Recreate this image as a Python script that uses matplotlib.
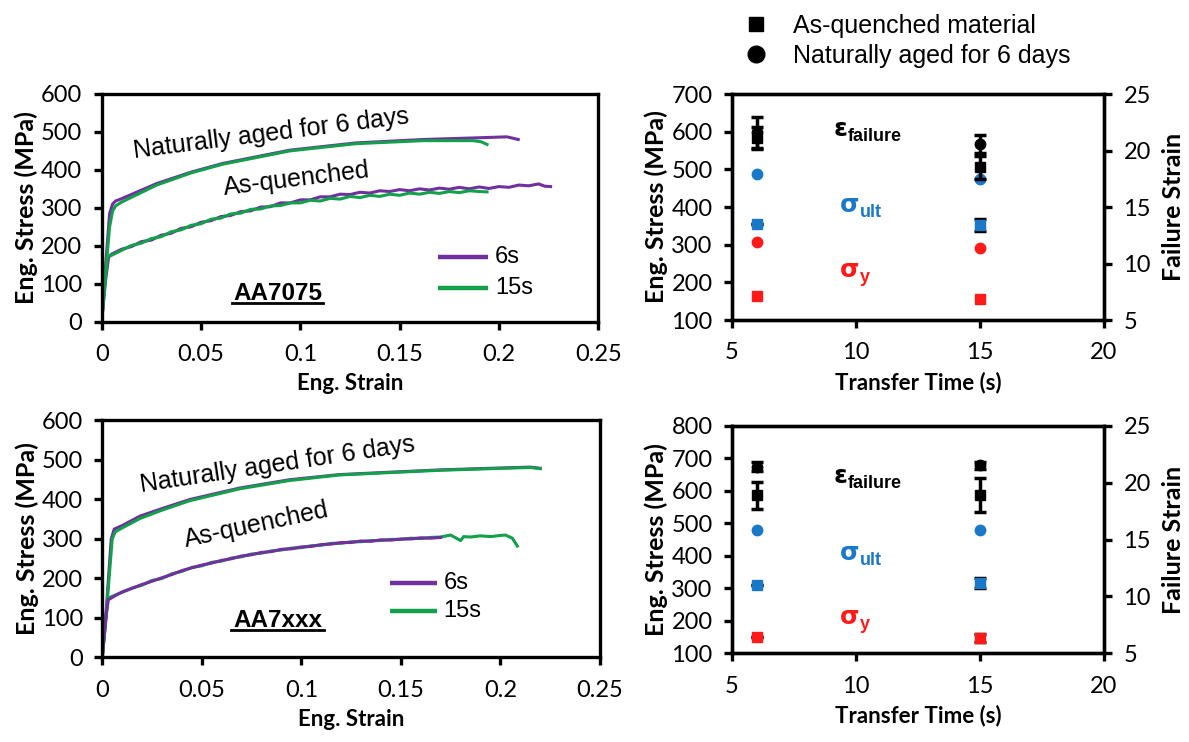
import matplotlib
matplotlib.use("Agg")
import matplotlib.pyplot as plt
from matplotlib.lines import Line2D

# ---------------- data: stress-strain curves ----------------
# AA7075 naturally aged
na7075_6s_x = [0, 0.002, 0.004, 0.0055, 0.007, 0.01, 0.0277, 0.045, 0.061, 0.0948, 0.128, 0.162, 0.1955, 0.204, 0.2097]
na7075_6s_y = [0, 150, 285, 310, 318, 324, 364, 394, 417, 452, 471, 480, 485.5, 487, 480]
na7075_15s_x = [0, 0.002, 0.004, 0.0055, 0.007, 0.01, 0.0277, 0.045, 0.061, 0.0948, 0.128, 0.162, 0.187, 0.191, 0.194]
na7075_15s_y = [0, 130, 250, 292, 305, 315, 360, 392, 415, 450, 469, 477, 477, 474, 467]

# AA7075 as-quenched (noisy)
aq7075_6s_x = [0, 0.002, 0.0035, 0.005, 0.01, 0.015, 0.02, 0.025, 0.03, 0.035, 0.04, 0.045, 0.05, 0.055,
               0.06, 0.065, 0.07, 0.075, 0.08, 0.085, 0.09, 0.095, 0.1, 0.105, 0.11, 0.115, 0.12, 0.125,
               0.13, 0.135, 0.14, 0.145, 0.15, 0.155, 0.16, 0.165, 0.17, 0.175, 0.18, 0.185, 0.19, 0.195,
               0.2, 0.205, 0.21, 0.215, 0.22, 0.223, 0.226]
aq7075_6s_y = [0, 110, 170, 178, 191, 198, 211, 215, 228, 233, 246, 250, 262, 266, 277, 280, 290, 292,
               302, 303, 313, 313, 321, 321, 329, 329, 336, 335, 341, 339, 345, 343, 348, 345, 350, 347,
               352, 349, 354, 350, 355, 351, 356, 354, 360, 358, 363, 357, 356]
aq7075_15s_x = [0, 0.002, 0.003, 0.005, 0.01, 0.015, 0.02, 0.025, 0.03, 0.035, 0.04, 0.045, 0.05, 0.055,
                0.06, 0.065, 0.07, 0.075, 0.08, 0.085, 0.09, 0.095, 0.1, 0.105, 0.11, 0.115, 0.12, 0.125,
                0.13, 0.135, 0.14, 0.145, 0.15, 0.155, 0.16, 0.165, 0.17, 0.175, 0.18, 0.185, 0.19, 0.194]
aq7075_15s_y = [0, 125, 172, 175, 188, 201, 207, 219, 224, 237, 242, 254, 258, 270, 273, 284, 286, 296,
                297, 305, 306, 313, 313, 320, 318, 325, 323, 330, 327, 333, 330, 336, 333, 339, 336, 341,
                338, 343, 340, 345, 343, 342]

# AA7xxx naturally aged
na7xxx_6s_x = [0, 0.002, 0.0045, 0.006, 0.01, 0.019, 0.03, 0.044, 0.069, 0.094, 0.119, 0.144, 0.17, 0.195, 0.215, 0.22]
na7xxx_6s_y = [0, 120, 300, 325, 334, 358, 377, 400, 429, 450, 463, 469, 475, 479, 482, 479]
na7xxx_15s_x = [0, 0.002, 0.005, 0.0065, 0.01, 0.019, 0.03, 0.044, 0.069, 0.094, 0.119, 0.144, 0.17, 0.195, 0.215, 0.22]
na7xxx_15s_y = [0, 110, 300, 318, 328, 352, 373, 397, 427, 448, 462, 468, 474, 478, 481, 478]

# AA7xxx as-quenched
aq7xxx_6s_x = [0, 0.002, 0.003, 0.006, 0.01, 0.015, 0.02, 0.025, 0.03, 0.035, 0.04, 0.045, 0.05, 0.055,
               0.06, 0.065, 0.07, 0.075, 0.08, 0.085, 0.09, 0.095, 0.1, 0.105, 0.11, 0.115, 0.12, 0.125,
               0.13, 0.135, 0.14, 0.145, 0.15, 0.155, 0.16, 0.165, 0.17]
aq7xxx_6s_y = [0, 110, 146, 155, 166, 175, 185, 193, 202, 210, 220, 227, 234, 239, 246, 250, 257, 260,
               266, 268, 274, 275, 280, 281, 286, 287, 291, 291, 295, 294, 298, 297, 300, 300, 303, 302, 304]
aq7xxx_15s_x = [0, 0.002, 0.003, 0.006, 0.01, 0.015, 0.02, 0.025, 0.03, 0.035, 0.04, 0.045, 0.05, 0.055,
                0.06, 0.065, 0.07, 0.075, 0.08, 0.085, 0.09, 0.095, 0.1, 0.105, 0.11, 0.115, 0.12, 0.125,
                0.13, 0.135, 0.14, 0.145, 0.15, 0.155, 0.16, 0.165, 0.17, 0.175, 0.18, 0.1815, 0.185,
                0.19, 0.195, 0.2, 0.2025, 0.206, 0.2085]
aq7xxx_15s_y = [0, 105, 150, 157, 165, 176, 183, 195, 200, 212, 218, 228, 232, 241, 244, 252, 255, 262,
                264, 270, 272, 277, 278, 283, 284, 289, 289, 293, 293, 296, 296, 299, 299, 302, 301, 304,
                305, 310, 296, 306, 305, 308, 306, 309, 310, 302, 282]

# ---------------- data: strength / failure strain vs transfer time ----------------
transfer_time = [6, 15]
# AA7075
aa7075_ys_aq = [163, 157]
aa7075_ys_na = [306, 292]
aa7075_uts_aq = [356, 352]
aa7075_uts_aq_err = [0, 15]
aa7075_uts_na = [487, 475]
aa7075_fs_aq = [21.1, 18.5]
aa7075_fs_aq_err = [1.0, 1.0]
aa7075_fs_na = [21.6, 20.6]
aa7075_fs_na_err = [1.4, 0.8]
# AA7xxx
aa7xxx_ys_aq = [149, 148]
aa7xxx_ys_aq_err = [0, 12]
aa7xxx_uts_aq = [310, 317]
aa7xxx_uts_aq_err = [0, 15]
aa7xxx_uts_na = [481, 481]
aa7xxx_fs_aq = [18.9, 18.9]
aa7xxx_fs_aq_err = [1.2, 1.5]
aa7xxx_fs_na = [21.4, 21.55]
aa7xxx_fs_na_err = [0.4, 0.3]

strain_ticks = [0, 0.05, 0.1, 0.15, 0.2, 0.25]
strain_ticklabels = ["0", "0.05", "0.1", "0.15", "0.2", "0.25"]
legend_labels = ["6s", "15s"]

# ---------------- style ----------------
PURPLE = "#7030a0"
GREEN = "#12a04a"
BLUE = "#1a78c8"
RED = "#ff1a1a"
TICKFONT = "Lato"
TEXTFONT = "Liberation Sans"
SPW = 2.4
TICKSIZE = 17
XLABSIZE = 16
YLABSIZE = 18

fig = plt.figure(figsize=(11.89, 7.42), dpi=100)


def style_axes(ax):
    for s in ax.spines.values():
        s.set_linewidth(SPW)
    ax.tick_params(axis="both", which="major", length=6, width=SPW, labelsize=TICKSIZE,
                   direction="out", pad=8)
    ax.tick_params(axis="x", pad=10)
    for lab in ax.get_xticklabels() + ax.get_yticklabels():
        lab.set_fontfamily(TICKFONT)


def strain_panel(rect, curves, label, leg, texts):
    ax = fig.add_axes(rect)
    for (x, y, c) in curves:
        ax.plot(x, y, color=c, lw=2.2)
    ax.set_xlim(0, 0.25)
    ax.set_ylim(0, 600)
    ax.set_xticks(strain_ticks)
    ax.set_xticklabels(strain_ticklabels)
    ax.set_yticks(range(0, 601, 100))
    style_axes(ax)
    ax.set_xlabel("Eng. Strain", fontsize=XLABSIZE, fontweight="bold", fontfamily=TICKFONT, labelpad=6)
    ax.set_ylabel("Eng. Stress (MPa)", fontsize=YLABSIZE, fontweight="bold", fontfamily=TICKFONT, labelpad=2)
    # legend (drawn manually in axes fraction)
    x0, x1, xt, ys = leg
    for lab, col, yy in zip(legend_labels, [PURPLE, GREEN], ys):
        ax.plot([x0, x1], [yy, yy], transform=ax.transAxes, color=col, lw=3.2, solid_capstyle="butt")
        ax.text(xt, yy, lab, transform=ax.transAxes, fontsize=17, fontfamily=TEXTFONT,
                ha="left", va="center")
    for (txt, xy, rot) in texts:
        ax.text(xy[0], xy[1], txt, transform=ax.transAxes, fontsize=18, fontfamily=TEXTFONT,
                rotation=rot, ha="center", va="center", rotation_mode="anchor")
    ax.text(label[1][0], label[1][1], label[0], transform=ax.transAxes, fontsize=17.5,
            fontfamily=TEXTFONT, fontweight="bold", ha="center", va="baseline")
    ax.plot([label[2][0], label[2][1]], [label[2][2]] * 2, transform=ax.transAxes,
            color="black", lw=2.0, clip_on=False)
    return ax


def sym_text(ax, xy, main, sub, color):
    t = ax.annotate(main, xy=xy, xycoords="axes fraction", fontsize=18, fontweight="bold",
                    color=color, fontfamily="DejaVu Sans", ha="left", va="center")
    ax.annotate(sub, xy=(1.0, 0.0), xycoords=t, fontsize=13, fontweight="bold", color=color,
                fontfamily=TEXTFONT, ha="left", va="bottom", xytext=(0.5, -3), textcoords="offset points")


def time_panel(rect, ylim, yticks, ys_aq, ys_na, uts_aq, uts_na, fs_aq, fs_na,
               uts_aq_err, ys_aq_err, fs_aq_err, fs_na_err, txt_pos):
    ax = fig.add_axes(rect)
    ax2 = ax.twinx()
    ax.set_xlim(5, 20)
    ax.set_ylim(*ylim)
    ax.set_yticks(yticks)
    ax.set_xticks([5, 10, 15, 20])
    ax2.set_ylim(5, 25)
    ax2.set_yticks([5, 10, 15, 20, 25])
    ekw = dict(fmt="none", ecolor="black", elinewidth=2.5, capsize=4, capthick=2.5)
    if uts_aq_err is not None:
        ax.errorbar(transfer_time, uts_aq, yerr=uts_aq_err, **ekw)
    if ys_aq_err is not None:
        ax.errorbar(transfer_time, ys_aq, yerr=ys_aq_err, **ekw)
    ax.plot(transfer_time, ys_aq, "s", color=RED, ms=7.5, ls="none")
    if ys_na is not None:
        ax.plot(transfer_time, ys_na, "o", color=RED, ms=7.5, ls="none")
    ax.plot(transfer_time, uts_aq, "s", color=BLUE, ms=7.5, ls="none")
    ax.plot(transfer_time, uts_na, "o", color=BLUE, ms=7.5, ls="none")
    ax2.errorbar(transfer_time, fs_aq, yerr=fs_aq_err, **ekw)
    ax2.errorbar(transfer_time, fs_na, yerr=fs_na_err, **ekw)
    ax2.plot(transfer_time, fs_aq, "s", color="black", ms=7.5, ls="none")
    ax2.plot(transfer_time, fs_na, "o", color="black", ms=7.5, ls="none")
    style_axes(ax)
    style_axes(ax2)
    ax.set_xlabel("Transfer Time (s)", fontsize=XLABSIZE, fontweight="bold", fontfamily=TICKFONT, labelpad=6)
    ax.set_ylabel("Eng. Stress (MPa)", fontsize=YLABSIZE, fontweight="bold", fontfamily=TICKFONT, labelpad=2)
    ax2.set_ylabel("Failure Strain", fontsize=YLABSIZE, fontweight="bold", fontfamily=TICKFONT, labelpad=8)
    sym_text(ax2, txt_pos[0], "ε", "failure", "black")
    sym_text(ax2, txt_pos[1], "σ", "ult", BLUE)
    sym_text(ax2, txt_pos[2], "σ", "y", RED)
    return ax


# top-left
strain_panel([0.0855, 0.5664, 0.4177, 0.3070],
             [(na7075_6s_x, na7075_6s_y, PURPLE), (aq7075_6s_x, aq7075_6s_y, PURPLE),
              (na7075_15s_x, na7075_15s_y, GREEN), (aq7075_15s_x, aq7075_15s_y, GREEN)],
             ("AA7075", (0.354, 0.097), (0.262, 0.446, 0.081)),
             (0.678, 0.778, 0.792, [0.285, 0.149]),
             [("Naturally aged for 6 days", (0.341, 0.826), 7.2),
              ("As-quenched", (0.393, 0.626), 7)])

# bottom-left
strain_panel([0.0860, 0.1139, 0.4186, 0.3194],
             [(na7xxx_6s_x, na7xxx_6s_y, PURPLE), (aq7xxx_15s_x, aq7xxx_15s_y, GREEN),
              (na7xxx_15s_x, na7xxx_15s_y, GREEN), (aq7xxx_6s_x, aq7xxx_6s_y, PURPLE)],
             ("AA7xxx", (0.352, 0.13), (0.259, 0.445, 0.114)),
             (0.578, 0.673, 0.686, [0.314, 0.196]),
             [("Naturally aged for 6 days", (0.352, 0.815), 8.5),
              ("As-quenched", (0.31, 0.56), 12)])

# top-right
time_panel([0.6156, 0.5687, 0.3129, 0.3046], (100, 700), range(100, 701, 100),
           aa7075_ys_aq, aa7075_ys_na, aa7075_uts_aq, aa7075_uts_na, aa7075_fs_aq, aa7075_fs_na,
           aa7075_uts_aq_err, None, aa7075_fs_aq_err, aa7075_fs_na_err,
           [(0.272, 0.845), (0.29, 0.51), (0.29, 0.22)])

# bottom-right
time_panel([0.6156, 0.1195, 0.3129, 0.3064], (100, 800), range(100, 801, 100),
           aa7xxx_ys_aq, None, aa7xxx_uts_aq, aa7xxx_uts_na, aa7xxx_fs_aq, aa7xxx_fs_na,
           aa7xxx_uts_aq_err, aa7xxx_ys_aq_err, aa7xxx_fs_aq_err, aa7xxx_fs_na_err,
           [(0.272, 0.78), (0.29, 0.44), (0.29, 0.16)])

# top legend
lh = [Line2D([], [], marker="s", color="black", ls="none", ms=10),
      Line2D([], [], marker="o", color="black", ls="none", ms=12)]
fig.legend(lh, ["As-quenched material", "Naturally aged for 6 days"], loc="upper left",
           bbox_to_anchor=(0.6, 1.005), frameon=False, prop={"family": TEXTFONT, "size": 18},
           handletextpad=0.5, labelspacing=0.25, borderpad=0.2)

fig.savefig("out.png", dpi=100)
